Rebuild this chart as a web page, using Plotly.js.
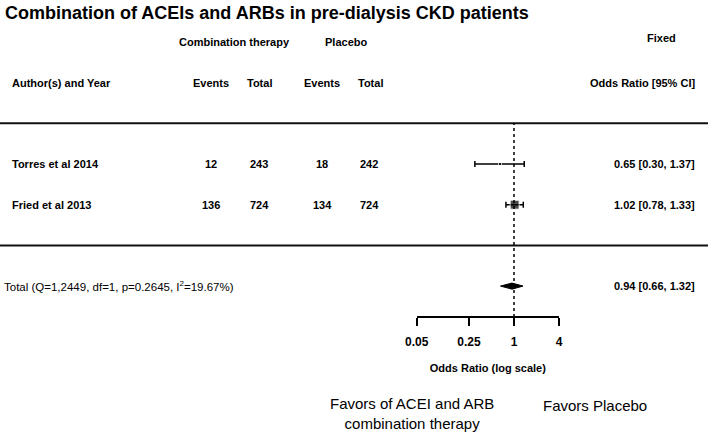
<!DOCTYPE html>
<html>
<head>
<meta charset="utf-8">
<script src="https://cdn.plot.ly/plotly-3.0.1.min.js"></script>
<style>
  html, body { margin: 0; padding: 0; background: #fff; }
  #chart { width: 708px; height: 436px; }
</style>
</head>
<body>
<div id="chart"></div>
<script>
// study level data
const studies = ['Torres et al 2014', 'Fried et al 2013'];
const comboEvents = [12, 136];
const comboTotal = [243, 724];
const placeboEvents = [18, 134];
const placeboTotal = [242, 724];
const oddsRatio = [0.65, 1.02];
const ciLow = [0.30, 0.78];
const ciHigh = [1.37, 1.33];

// pooled (fixed effect) estimate
const totalEst = 0.94;
const totalLow = 0.66;
const totalHigh = 1.32;
const totalLabel = 'Total (Q=1,2449, df=1, p=0.2645, I<sup>2</sup>=19.67%)';

const axisTicks = [0.05, 0.25, 1, 4];
const axisTickText = ['0.05', '0.25', '1', '4'];

// row layout: header rows on top, studies, separator, total
const nRows = studies.length;
const rowY = studies.map((s, i) => nRows + 3 - i);
const topLineY = nRows + 4;
const sepLineY = 3;
const totalY = 2;
const axisY = 1.24;

const fontFam = '"Liberation Sans", Arial, sans-serif';
const fmt = v => v.toFixed(2);

const W = 708;
const col = px => px / W;

const annotations = [];
function addText(text, xpx, y, anchor, opts) {
    opts = opts || {};
    annotations.push({
        text: text,
        xref: 'paper', x: col(xpx), xanchor: anchor,
        yref: opts.yref || 'y', y: y, yanchor: 'middle',
        showarrow: false,
        font: { family: fontFam, size: opts.size || 11, color: '#000', weight: opts.weight === undefined ? 700 : opts.weight },
        align: opts.align || 'center'
    });
}

// headers
addText('Combination therapy', 234, topLineY + 2, 'center');
addText('Placebo', 346, topLineY + 2, 'center');
addText('Fixed', 661, topLineY + 2.1, 'center');
addText('Author(s) and Year', 10, topLineY + 1, 'left');
addText('Events', 211, topLineY + 1, 'center');
addText('Total', 259, topLineY + 1, 'center');
addText('Events', 322, topLineY + 1, 'center');
addText('Total', 370, topLineY + 1, 'center');
addText('Odds Ratio [95% CI]', 697, topLineY + 1, 'right');

// study rows
studies.forEach((name, i) => {
    const y = rowY[i];
    addText(name, 10, y, 'left');
    addText(String(comboEvents[i]), 211, y, 'center');
    addText(String(comboTotal[i]), 259, y, 'center');
    addText(String(placeboEvents[i]), 322, y, 'center');
    addText(String(placeboTotal[i]), 369, y, 'center');
    addText(fmt(oddsRatio[i]) + ' [' + fmt(ciLow[i]) + ', ' + fmt(ciHigh[i]) + ']', 697, y, 'right');
});

// total row
addText(totalLabel, 2, totalY, 'left', { size: 11.5, weight: 400 });
addText(fmt(totalEst) + ' [' + fmt(totalLow) + ', ' + fmt(totalHigh) + ']', 697, totalY, 'right');

// favours labels
addText('Favors of ACEI and ARB<br>combination therapy', 412, 1 - 413 / 436, 'center', { yref: 'paper', size: 15, weight: 400 });
addText('Favors Placebo', 595, 1 - 405 / 436, 'center', { yref: 'paper', size: 15, weight: 400 });

const studyTrace = {
    x: oddsRatio,
    y: rowY,
    type: 'scatter',
    mode: 'markers',
    marker: { symbol: 'square', color: '#000', size: [3, 9] },
    error_x: {
        type: 'data',
        symmetric: false,
        array: ciHigh.map((h, i) => h - oddsRatio[i]),
        arrayminus: ciLow.map((l, i) => oddsRatio[i] - l),
        color: '#000',
        thickness: 1.5,
        width: 3
    },
    hoverinfo: 'skip'
};

const dh = 0.075;
const diamond = {
    x: [totalLow, totalEst, totalHigh, totalEst, totalLow],
    y: [totalY, totalY + dh, totalY, totalY - dh, totalY],
    type: 'scatter',
    mode: 'lines',
    fill: 'toself',
    fillcolor: '#000',
    line: { color: '#000', width: 1 },
    hoverinfo: 'skip'
};

// px per ln unit ~32.5, OR=1 at x=514px
const pxPerLog10 = 32.5 * Math.LN10;
const xMin = -514 / pxPerLog10;
const xMax = (W - 514) / pxPerLog10;
const yPx = 40.7;
const yMin = 5 - (436 - 164) / yPx;
const yMax = 5 + 164 / yPx;

const axDom0 = (514 + pxPerLog10 * Math.log10(axisTicks[0])) / W;
const axDom1 = (514 + pxPerLog10 * Math.log10(axisTicks[axisTicks.length - 1])) / W;

const layout = {
    width: 708,
    height: 436,
    margin: { l: 0, r: 0, t: 0, b: 0 },
    paper_bgcolor: '#fff',
    plot_bgcolor: 'rgba(0,0,0,0)',
    showlegend: false,
    title: {
        text: 'Combination of ACEIs and ARBs in pre-dialysis CKD patients',
        x: 5 / W, xanchor: 'left',
        y: 1 - 13 / 436, yanchor: 'middle',
        font: { family: fontFam, size: 18, color: '#000', weight: 700 }
    },
    xaxis: {
        type: 'log',
        range: [xMin, xMax],
        visible: false,
        domain: [0, 1]
    },
    xaxis2: {
        type: 'log',
        range: [Math.log10(axisTicks[0]), Math.log10(axisTicks[axisTicks.length - 1])],
        domain: [axDom0, axDom1],
        anchor: 'free',
        position: 1 - 317 / 436,
        showline: true,
        linecolor: '#000',
        linewidth: 2,
        ticks: 'outside',
        ticklen: 8,
        tickwidth: 2,
        tickcolor: '#000',
        tickmode: 'array',
        tickvals: axisTicks,
        ticktext: axisTickText,
        ticklabelstandoff: 6,
        showgrid: false,
        zeroline: false,
        tickfont: { family: fontFam, size: 12, color: '#000', weight: 700 },
        title: {
            text: 'Odds Ratio (log scale)',
            standoff: 15,
            font: { family: fontFam, size: 11, color: '#000', weight: 700 }
        }
    },
    yaxis: {
        range: [yMin, yMax],
        visible: false
    },
    shapes: [
        { type: 'line', xref: 'paper', x0: 0, x1: 1, yref: 'y', y0: topLineY, y1: topLineY, line: { color: '#111', width: 2 } },
        { type: 'line', xref: 'paper', x0: 0, x1: 1, yref: 'y', y0: sepLineY, y1: sepLineY, line: { color: '#111', width: 2 } },
        { type: 'line', xref: 'x', x0: 1, x1: 1, yref: 'y', y0: axisY, y1: topLineY, line: { color: '#000', width: 1.5, dash: 'dot' } }
    ],
    annotations: annotations
};

// invisible points so the secondary axis is drawn
const axisTrace = {
    x: axisTicks,
    y: axisTicks.map(() => axisY),
    xaxis: 'x2',
    yaxis: 'y',
    type: 'scatter',
    mode: 'markers',
    marker: { opacity: 0 },
    hoverinfo: 'skip'
};

Plotly.newPlot('chart', [axisTrace, diamond, studyTrace], layout, { displayModeBar: false, staticPlot: true });
</script>
</body>
</html>
